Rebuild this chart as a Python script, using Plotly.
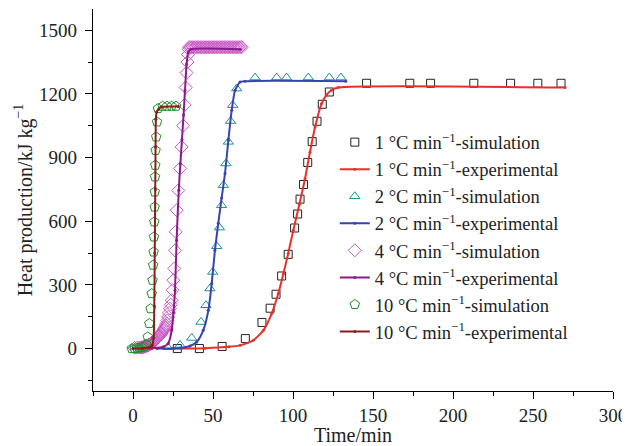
import plotly.graph_objects as go

# ---------------- data ----------------
# 1 °C/min
t1_sim = [27.7, 41.5, 55.7, 70.2, 80.6, 85.7, 89.4, 92.9, 97.0, 101.0, 102.9, 104.4, 106.6,
          109.2, 112.0, 115.0, 118.3, 122.7, 146, 173, 186, 213, 236, 253, 267.5]
v1_sim = [0, 0, 10, 47, 123, 190, 256, 342, 444, 568, 634, 704, 773,
          877, 975, 1071, 1151, 1209, 1250, 1250, 1250, 1250, 1250, 1250, 1250]
t1_exp = [25, 45, 60, 67, 75.2, 81.5, 86.7, 90.8, 94.0, 97.0, 100.2, 104.0, 107.5,
          110.6, 113.8, 117.9, 121.0, 124.0, 128.3, 270]
v1_exp = [0, 2, 8, 15, 39, 86, 165, 259, 353, 448, 557, 680, 800,
          925, 1044, 1155, 1195, 1217, 1230, 1230]

# 2 °C/min
t2_sim = [21.7, 29.4, 36.7, 42.5, 45.6, 48.1, 49.8, 52.3, 54.0, 55.4, 56.5, 58.1, 59.6,
          61.0, 62.3, 64.8, 76.3, 89.8, 96.0, 109.6, 122.7, 130.0]
v2_sim = [6, 17, 50, 125, 204, 283, 361, 482, 570, 675, 770, 872, 974,
          1072, 1147, 1225, 1277, 1277, 1277, 1277, 1277, 1277]
t2_exp = [15, 30, 35.6, 39.8, 43.9, 47.1, 49.2, 51.2, 53.3, 55.4, 57.5, 59.6, 61.7,
          63.8, 66.9, 70, 133]
v2_exp = [0, 3, 12, 31, 86, 180, 306, 463, 590, 710, 825, 981, 1123,
          1217, 1256, 1260, 1260]

# 4 °C/min
t4_sim = [1.0, 2.5, 4.0, 5.0, 5.5, 6.0, 6.5, 7.0, 7.5, 8.0, 8.5, 9.0, 9.5, 10.0, 10.6,
          11.1, 11.6, 12.2, 12.7, 13.2, 13.7, 14.3, 14.8, 15.3, 15.8, 16.4, 16.9,
          17.4, 17.9, 18.4, 18.9, 19.5, 20.0, 20.5, 21.0, 21.5, 22.0, 22.5, 23.1,
          23.6, 24.2, 24.8, 25.2, 25.8, 26.25, 26.7,
          27.3, 28.3, 29.4, 30.4, 31.3, 32.3, 32.9, 33.5, 34.0, 34.4, 34.8,
          35, 36, 37, 38, 39, 40, 41, 42, 43, 44, 45, 46, 47, 48, 49, 50, 51, 52,
          53, 54, 55, 56, 57, 58, 59, 60, 61, 62, 63, 64, 65, 66, 67, 68]
v4_sim = [3, 4, 5, 5, 6, 6, 7, 8, 10, 11, 12, 14, 16, 18, 20,
          22, 25, 28, 31, 34, 38, 42, 47, 51, 55, 59, 63,
          68, 74, 80, 86, 93, 100, 109, 118, 132, 149, 168, 188,
          207, 228, 275, 322, 377, 463, 550,
          652, 745, 848, 950, 1050, 1148, 1230, 1300, 1350, 1385, 1410,
          1420, 1420, 1420, 1420, 1420, 1420, 1420, 1420, 1420, 1420, 1420, 1420, 1420, 1420,
          1420, 1420, 1420, 1420, 1420, 1420, 1420, 1420, 1420, 1420, 1420, 1420, 1420, 1420,
          1420, 1420, 1420, 1420, 1420, 1420]
t4_exp = [5, 12, 18.9, 22.0, 24.2, 25.3, 26.25, 27.25, 28.6, 29.6, 30.6, 31.6, 32.5,
          33.5, 34.5, 36, 67]
v4_exp = [0, 2, 8, 24, 86, 170, 275, 510, 746, 870, 985, 1100, 1217,
          1340, 1395, 1410, 1410]

# 10 °C/min
t10_sim = [-0.8, 1.0, 2.5, 4.0, 5.5, 7.0, 8.2, 9.2, 10.2, 11.0, 11.7, 12.2, 12.6, 12.9,
           13.1, 13.3, 13.5, 13.6, 13.75, 13.9, 14.1, 14.5, 15.0, 15.6, 18.5, 21.3,
           24.1, 26.9]
v10_sim = [0, 0, 2, 3, 5, 8, 20, 55, 118, 188, 259, 322, 393, 455,
           526, 597, 667, 738, 809, 864, 934, 997, 1068, 1131, 1142, 1142,
           1142, 1142]
t10_exp = [0, 6, 10, 12, 12.9, 13.3, 13.6, 13.9, 14.1, 14.3, 14.8, 16, 17.5, 28.3]
v10_exp = [0, 2, 5, 15, 50, 200, 450, 750, 950, 1080, 1115, 1128, 1138, 1140]

x_ticks = [0, 50, 100, 150, 200, 250, 300]
y_ticks = [0, 300, 600, 900, 1200, 1500]

# ---------------- figure ----------------
FONT = "Liberation Serif, Times New Roman, serif"
SUP = "<sup>\u22121</sup>"

series = [
    ("1", t1_sim, v1_sim, "square-open", 8, "#222222", t1_exp, v1_exp, "#e8302a"),
    ("2", t2_sim, v2_sim, "triangle-up-open", 9, "#1b9393", t2_exp, v2_exp, "#3545b0"),
    ("4", t4_sim, v4_sim, "diamond-open", 10, "#c955c6", t4_exp, v4_exp, "#8a1a8a"),
    ("10", t10_sim, v10_sim, "pentagon-open", 10, "#1f8f24", t10_exp, v10_exp, "#8b1c1c"),
]

fig = go.Figure()
for i, (rate, ts, vs, sym, sz, mcol, te, ve, lcol) in enumerate(series):
    fig.add_trace(go.Scatter(
        x=ts, y=vs, mode="markers",
        name=f"{rate} \u00b0C min{SUP}-simulation",
        legendgroup=f"s{i}",
        marker=dict(symbol=sym, size=sz, color=mcol, line=dict(width=1, color=mcol)),
    ))
    fig.add_trace(go.Scatter(
        x=te, y=ve, mode="lines+markers",
        name=f"{rate} \u00b0C min{SUP}-experimental",
        legendgroup=f"e{i}",
        line=dict(color=lcol, width=2, shape="spline", smoothing=0.6),
        marker=dict(size=3, color=lcol),
    ))

axis_common = dict(
    showline=True, linecolor="black", linewidth=1.2, mirror=False,
    ticks="outside", ticklen=7, tickwidth=1.2, tickcolor="black",
    showgrid=False, zeroline=False, automargin=False,
    tickfont=dict(family=FONT, size=19, color="#222222"),
)

# page body adds an 8px offset, so the figure is sized/positioned to compensate
fig.update_layout(
    width=622, height=438,
    margin=dict(l=85, r=17, t=1, b=55),
    paper_bgcolor="white", plot_bgcolor="white",
    font=dict(family=FONT, size=19, color="#222222"),
    showlegend=True,
    legend=dict(
        x=0.465, y=0.7, xanchor="left", yanchor="top",
        bgcolor="rgba(0,0,0,0)", borderwidth=0,
        font=dict(family=FONT, size=18.5, color="#222222"),
        tracegroupgap=0, itemwidth=30,
    ),
    xaxis=dict(
        range=[-25, 300], tickvals=x_ticks,
        minor=dict(dtick=25, tick0=0, ticks="outside", ticklen=4, tickwidth=1.2, tickcolor="black"),
        title=dict(text="Time/min", font=dict(family=FONT, size=20), standoff=6),
        **axis_common,
    ),
    yaxis=dict(
        range=[-200, 1600], tickvals=y_ticks,
        minor=dict(dtick=150, tick0=0, ticks="outside", ticklen=4, tickwidth=1.2, tickcolor="black"),
        ticklabelstandoff=4,
        title=dict(text="Heat production/kJ kg" + SUP, font=dict(family=FONT, size=20), standoff=1),
        **axis_common,
    ),
)

fig.write_html("out.html")
